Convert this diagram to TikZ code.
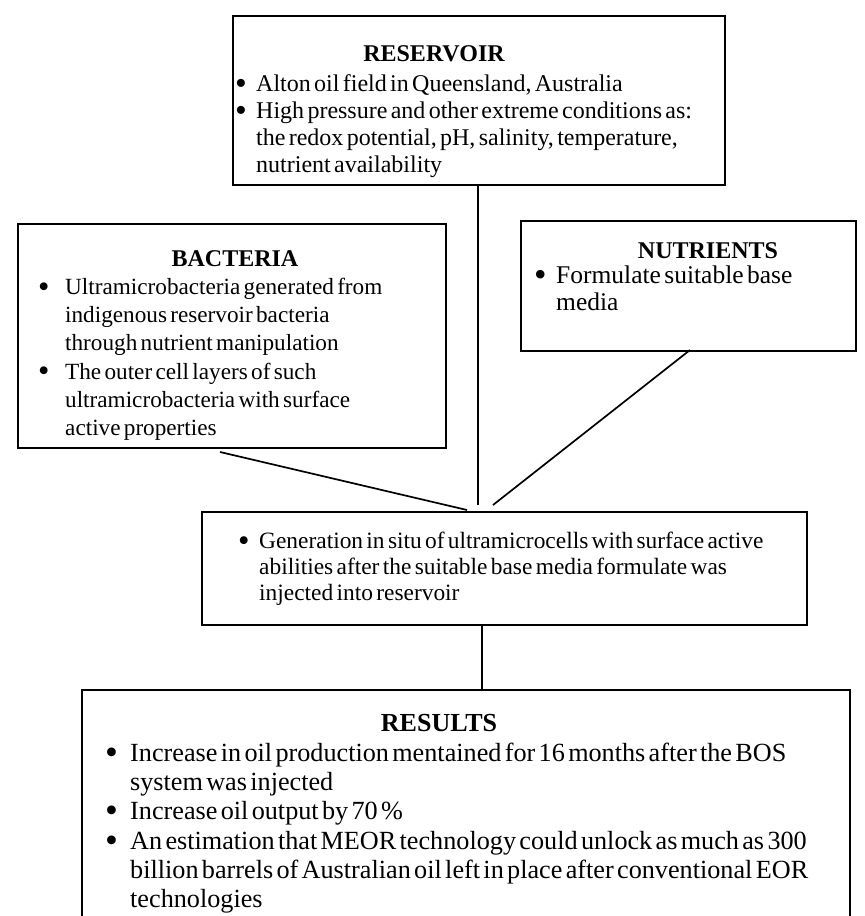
\documentclass[tikz,border=0pt]{standalone}
\usepackage{fontspec}
\setmainfont{Liberation Serif}
\newlength{\bulind}
% bullet paragraph with hanging indent; \newline breaks keep the indent
\newcommand{\dotmark}{\smash{\raisebox{-0.12em}{\scalebox{1.4}{\textbullet}}}}
\newcommand{\bul}[1]{\par\noindent\hangindent=\bulind\hangafter=1\makebox[\bulind][l]{\dotmark}#1}

\begin{document}
\begin{tikzpicture}[x=1pt,y=-1pt,
  box/.style={draw, line width=1.7pt, inner sep=0pt, anchor=north west},
  title/.style={anchor=base, inner sep=0pt, font=\bfseries\fontsize{24}{27}\selectfont},
  body/.style={anchor=north west, inner sep=0pt, align=left, text width=#1},
  link/.style={line width=1.7pt}]

\clip (0,0) rectangle (865,916);
\fill[white] (0,0) rectangle (865,916);

% ---- boxes ----
\node[box, minimum width=492pt, minimum height=169pt] (res) at (232,15) {};
\node[box, minimum width=428pt, minimum height=224pt] (bac) at (17,223) {};
\node[box, minimum width=335pt, minimum height=130pt] (nut) at (520,220) {};
\node[box, minimum width=605pt, minimum height=113pt] (mid) at (201,511) {};
\node[box, minimum width=768pt, minimum height=260pt] (out) at (81,689) {};

% ---- reservoir ----
\node[title] (resT) at (434,61) {RESERVOIR};
\node[body=600pt] (resB) at (235,65) {\fontsize{24}{26.7}\selectfont\setlength{\bulind}{21pt}%
  \bul{\strut Alton oil field in Queensland, Australia}
  \bul{High pressure and other extreme conditions as:\newline the redox potential, pH, salinity, temperature,\newline nutrient availability}\par};

% ---- bacteria ----
\node[title] (bacT) at (235,266) {BACTERIA};
\node[body=600pt] (bacB) at (38,266) {\fontsize{23.2}{28.2}\selectfont\setlength{\bulind}{27pt}%
  \bul{\strut Ultramicrobacteria generated from\newline indigenous reservoir bacteria\newline through nutrient manipulation}
  \bul{The outer cell layers of such\newline ultramicrobacteria with surface\newline active properties}\par};

% ---- nutrients ----
\node[title] (nutT) at (708,258) {NUTRIENTS};
\node[body=400pt] (nutB) at (534,257) {\fontsize{25.5}{26.5}\selectfont\setlength{\bulind}{22pt}%
  \bul{\strut Formulate suitable base\newline media}\par};

% ---- combined effect ----
\node[body=700pt] (midB) at (238,522) {\fontsize{23.4}{26}\selectfont\setlength{\bulind}{21pt}%
  \bul{\strut Generation in situ of ultramicrocells with surface active\newline abilities after the suitable base media formulate was\newline injected into reservoir}\par};

% ---- results ----
\node[title, font=\bfseries\fontsize{26}{29}\selectfont] (outT) at (439,731) {RESULTS};
\node[body=800pt] (outB) at (105,732) {\fontsize{26.2}{29.2}\selectfont\setlength{\bulind}{25pt}%
  \bul{\strut Increase in oil production mentained for 16 months after the BOS\newline system was injected}
  \bul{Increase oil output by 70 \%}
  \bul{An estimation that MEOR technology could unlock as much as 300\newline billion barrels of Australian oil left in place after conventional EOR\newline technologies}\par};

% ---- connectors ----
\coordinate (jr) at (478,505);
\coordinate (jb) at (467,510);
\coordinate (jn) at (493,505);
\coordinate (bs) at (220,452);
\coordinate (ns) at (690,350);
\draw[link] (res.south -| jr) -- (jr);
\draw[link] (bs) -- (jb);
\draw[link] (ns) -- (jn);
\draw[link] (mid.south -| 482,0) -- (out.north -| 482,0);
\end{tikzpicture}
\end{document}
